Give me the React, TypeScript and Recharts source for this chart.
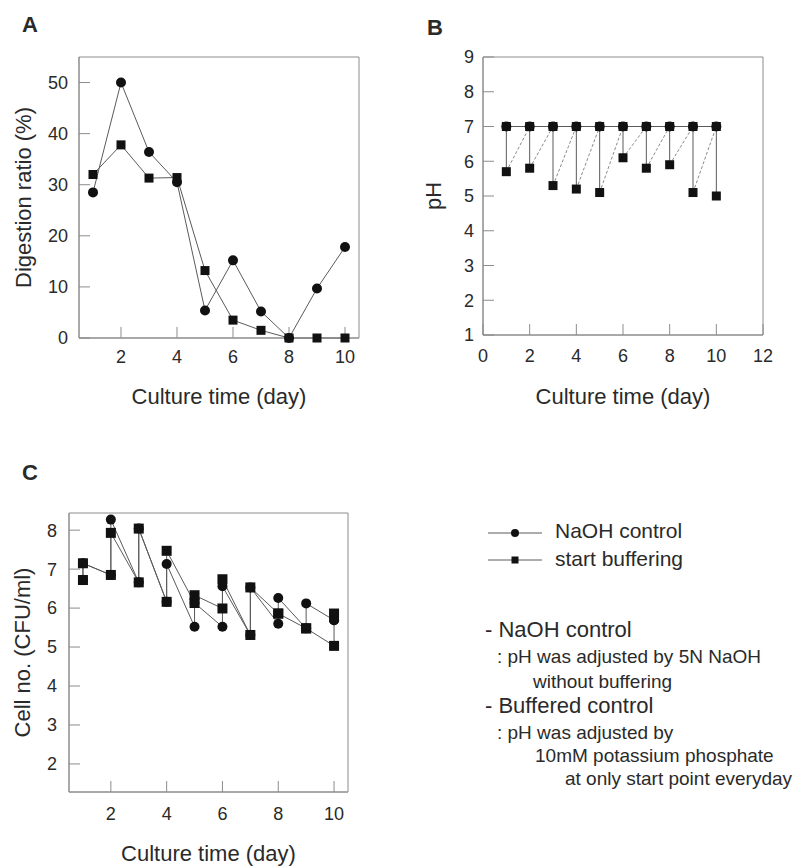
import { LineChart, Line, XAxis, YAxis, ReferenceArea, Label } from "recharts";

const FONT = '"Liberation Sans", Arial, sans-serif';
const INK = "#2a2a2a";
const FRAME = "#8c8c8c";
const LINE = "#5a5a5a";
const MARK = "#111";

const days = [1, 2, 3, 4, 5, 6, 7, 8, 9, 10];

// A: digestion ratio (%)
const digestNaoh = [28.5, 50, 36.4, 30.5, 5.4, 15.2, 5.2, 0, 9.7, 17.8];
const digestBuffer = [32, 37.8, 31.3, 31.4, 13.2, 3.5, 1.5, 0, 0, 0];
const ticksA_x = [2, 4, 6, 8, 10];
const ticksA_y = [0, 10, 20, 30, 40, 50];

// B: pH at start of day (after adjusting) and at end of day
const phStart = [7, 7, 7, 7, 7, 7, 7, 7, 7, 7];
const phEnd = [5.7, 5.8, 5.3, 5.2, 5.1, 6.1, 5.8, 5.9, 5.1, 5.0];
const ticksB_x = [0, 2, 4, 6, 8, 10, 12];
const ticksB_y = [1, 2, 3, 4, 5, 6, 7, 8, 9];

// C: cell no. (log CFU/ml), low and high reading each day
const cellNaohLow = [6.72, 6.85, 6.66, 6.16, 5.52, 5.52, 5.31, 5.6, 5.48, 5.69];
const cellNaohHigh = [7.15, 8.27, 8.04, 7.13, 6.13, 6.56, 6.53, 6.26, 6.12, 5.69];
const cellBufLow = [6.72, 6.85, 6.66, 6.16, 6.13, 5.99, 5.31, 5.86, 5.48, 5.03];
const cellBufHigh = [7.15, 7.93, 8.04, 7.47, 6.33, 6.74, 6.53, 5.86, 5.48, 5.86];
const ticksC_x = [2, 4, 6, 8, 10];
const ticksC_y = [2, 3, 4, 5, 6, 7, 8];

const digestRows = days.map((d, i) => ({
  day: d,
  naoh: digestNaoh[i],
  buffer: digestBuffer[i],
}));
const phFlat = days.map((d, i) => ({ day: d, ph: phStart[i] }));
// vertical drop within each day (gaps between days)
const phDrop = days.flatMap((d, i) => [
  { day: d, ph: phStart[i] },
  { day: d, ph: phEnd[i] },
  { day: d, ph: null },
]);
// re-adjustment from end of one day to start of next
const phRise = days.slice(0, -1).flatMap((d, i) => [
  { day: d, ph: phEnd[i] },
  { day: days[i + 1], ph: phStart[i + 1] },
  { day: days[i + 1], ph: null },
]);
const cellNaoh = days.flatMap((d, i) => [
  { day: d, v: cellNaohLow[i] },
  { day: d, v: cellNaohHigh[i] },
]);
const cellBuf = days.flatMap((d, i) => [
  { day: d, v: cellBufLow[i] },
  { day: d, v: cellBufHigh[i] },
]);

const square = (size: number) => (p: any) => {
  if (p.cx == null || p.cy == null || p.value == null) return <g key={`n${p.index}`} />;
  return (
    <rect
      key={`s${p.index}`}
      x={p.cx - size / 2}
      y={p.cy - size / 2}
      width={size}
      height={size}
      fill={MARK}
    />
  );
};

const circle = (r: number) => (p: any) => {
  if (p.cx == null || p.cy == null || p.value == null) return <g key={`n${p.index}`} />;
  return <circle key={`c${p.index}`} cx={p.cx} cy={p.cy} r={r} fill={MARK} />;
};

const xTitle = (text: string, dy: number) => (props: any) => {
  const vb = props.viewBox || {};
  return (
    <text
      x={vb.x + vb.width / 2}
      y={vb.y + dy}
      textAnchor="middle"
      dominantBaseline="central"
      fontSize={22}
      fill={INK}
      fontFamily={FONT}
    >
      {text}
    </text>
  );
};

const yTitle = (text: string, cx: number) => (props: any) => {
  const vb = props.viewBox || {};
  const cy = vb.y + vb.height / 2;
  return (
    <text
      x={cx}
      y={cy}
      transform={`rotate(-90 ${cx} ${cy})`}
      textAnchor="middle"
      dominantBaseline="central"
      fontSize={22}
      fill={INK}
      fontFamily={FONT}
    >
      {text}
    </text>
  );
};

const tickStyle = { fontSize: 18, fill: INK, fontFamily: FONT };

export default function App() {
  return (
    <div
      style={{
        position: "absolute",
        left: 0,
        top: 0,
        width: 802,
        height: 868,
        background: "#fff",
        fontFamily: FONT,
        overflow: "hidden",
      }}
    >
      {/* A */}
      <div style={{ position: "absolute", left: 0, top: 0 }}>
        <LineChart
          width={380}
          height={420}
          data={digestRows}
          margin={{ top: 57, right: 21, left: 0, bottom: 0 }}
        >
          <XAxis
            dataKey="day"
            type="number"
            domain={[0.5, 10.5]}
            ticks={ticksA_x}
            interval={0}
            height={82}
            tickSize={-11}
            tickMargin={23.5}
            tick={tickStyle}
            stroke={FRAME}
          >
            <Label content={xTitle("Culture time (day)", 58)} />
          </XAxis>
          <YAxis
            type="number"
            domain={[0, 55]}
            ticks={ticksA_y}
            interval={0}
            width={79}
            tickSize={-11}
            tickMargin={22}
            tick={tickStyle}
            stroke={FRAME}
          >
            <Label content={yTitle("Digestion ratio (%)", 23)} />
          </YAxis>
          <ReferenceArea x1={0.5} x2={10.5} y1={0} y2={55} fill="none" stroke={FRAME} />
          <Line
            dataKey="buffer"
            stroke={LINE}
            strokeWidth={1}
            dot={square(9)}
            activeDot={false}
            isAnimationActive={false}
          />
          <Line
            dataKey="naoh"
            stroke={LINE}
            strokeWidth={1}
            dot={circle(5)}
            activeDot={false}
            isAnimationActive={false}
          />
        </LineChart>
      </div>

      {/* B */}
      <div style={{ position: "absolute", left: 400, top: 0 }}>
        <LineChart
          width={400}
          height={420}
          margin={{ top: 57, right: 37, left: 0, bottom: 0 }}
        >
          <XAxis
            dataKey="day"
            type="number"
            domain={[0, 12]}
            ticks={ticksB_x}
            interval={0}
            height={85}
            tickSize={-11}
            tickMargin={25.5}
            tick={tickStyle}
            stroke={FRAME}
          >
            <Label content={xTitle("Culture time (day)", 61)} />
          </XAxis>
          <YAxis
            type="number"
            domain={[1, 9]}
            ticks={ticksB_y}
            interval={0}
            width={83}
            tickSize={-11}
            tickMargin={20}
            tick={tickStyle}
            stroke={FRAME}
          >
            <Label content={yTitle("pH", 33)} />
          </YAxis>
          <ReferenceArea x1={0} x2={12} y1={1} y2={9} fill="none" stroke={FRAME} />
          <Line
            data={phRise}
            dataKey="ph"
            stroke="#8a8a8a"
            strokeWidth={1}
            strokeDasharray="3 2"
            dot={false}
            activeDot={false}
            connectNulls={false}
            isAnimationActive={false}
          />
          <Line
            data={phDrop}
            dataKey="ph"
            stroke={LINE}
            strokeWidth={1}
            dot={square(9)}
            activeDot={false}
            connectNulls={false}
            isAnimationActive={false}
          />
          <Line
            data={phFlat}
            dataKey="ph"
            stroke={LINE}
            strokeWidth={1}
            dot={circle(5)}
            activeDot={false}
            isAnimationActive={false}
          />
        </LineChart>
      </div>

      {/* C */}
      <div style={{ position: "absolute", left: 0, top: 460 }}>
        <LineChart
          width={380}
          height={408}
          margin={{ top: 53, right: 32, left: 0, bottom: 0 }}
        >
          <XAxis
            dataKey="day"
            type="number"
            domain={[0.5, 10.5]}
            ticks={ticksC_x}
            interval={0}
            height={76}
            tickSize={-11}
            tickMargin={26}
            tick={tickStyle}
            stroke={FRAME}
          >
            <Label content={xTitle("Culture time (day)", 61)} />
          </XAxis>
          <YAxis
            type="number"
            domain={[1.28, 8.44]}
            ticks={ticksC_y}
            interval={0}
            width={69}
            tickSize={-11}
            tickMargin={23}
            tick={tickStyle}
            stroke={FRAME}
          >
            <Label content={yTitle("Cell no. (CFU/ml)", 22)} />
          </YAxis>
          <ReferenceArea x1={0.5} x2={10.5} y1={1.28} y2={8.44} fill="none" stroke={FRAME} />
          <Line
            data={cellBuf}
            dataKey="v"
            stroke={LINE}
            strokeWidth={1}
            dot={square(10)}
            activeDot={false}
            isAnimationActive={false}
          />
          <Line
            data={cellNaoh}
            dataKey="v"
            stroke={LINE}
            strokeWidth={1}
            dot={circle(5)}
            activeDot={false}
            isAnimationActive={false}
          />
        </LineChart>
      </div>

      {/* panel letters, legend and notes */}
      <svg
        width={802}
        height={868}
        style={{ position: "absolute", left: 0, top: 0, pointerEvents: "none" }}
        fontFamily={FONT}
        fill={INK}
      >
        <text x={22} y={32} fontSize={22} fontWeight="bold">A</text>
        <text x={427} y={35} fontSize={22} fontWeight="bold">B</text>
        <text x={22} y={480} fontSize={22} fontWeight="bold">C</text>

        <line x1={488} y1={533} x2={542} y2={533} stroke={LINE} strokeWidth={1} />
        <circle cx={515} cy={533} r={4} fill={MARK} />
        <text x={555} y={538} fontSize={21}>NaOH control</text>
        <line x1={488} y1={560} x2={542} y2={560} stroke={LINE} strokeWidth={1} />
        <rect x={511.5} y={556.5} width={7} height={7} fill={MARK} />
        <text x={555} y={566} fontSize={21}>start buffering</text>

        <text x={485} y={637} fontSize={22}>- NaOH control</text>
        <text x={497} y={663} fontSize={19}>: pH was adjusted by 5N NaOH</text>
        <text x={533} y={688} fontSize={19}>without buffering</text>
        <text x={485} y={713} fontSize={22}>- Buffered control</text>
        <text x={497} y={739} fontSize={19}>: pH was adjusted by</text>
        <text x={535} y={762} fontSize={19}>10mM potassium phosphate</text>
        <text x={565} y={785} fontSize={19}>at only start point everyday</text>
      </svg>
    </div>
  );
}
